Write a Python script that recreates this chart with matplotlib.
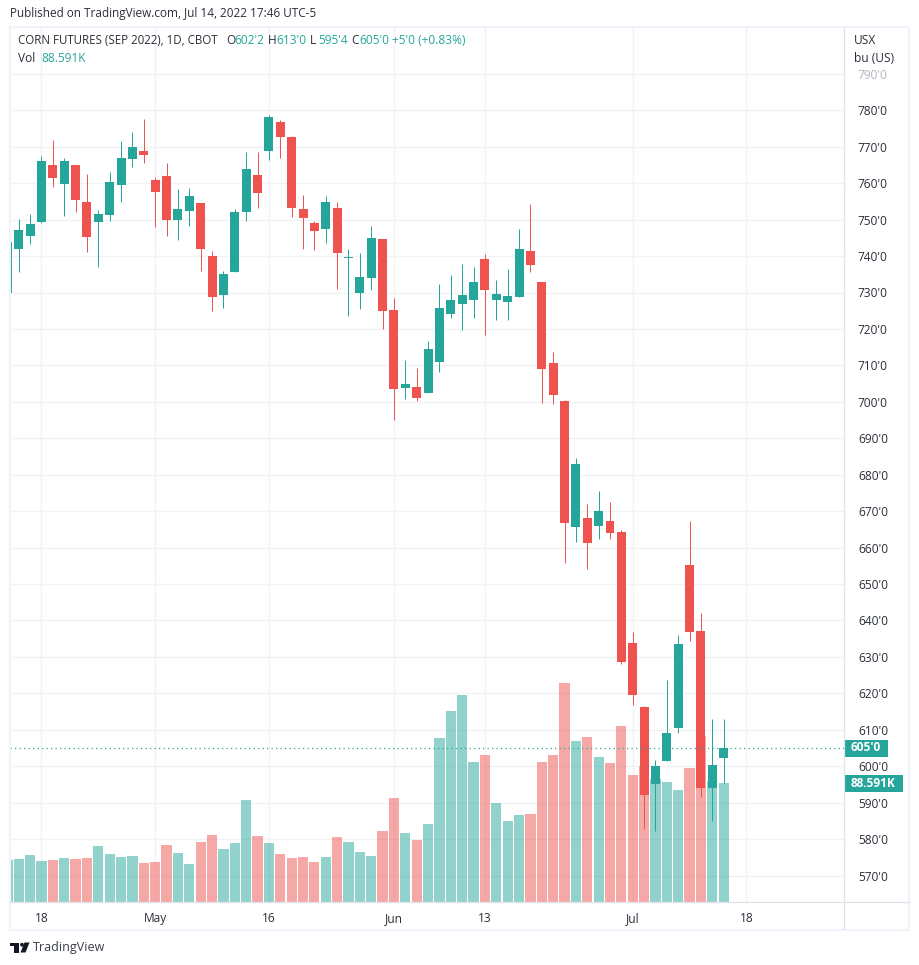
import matplotlib
matplotlib.use("Agg")
import matplotlib.pyplot as plt
from matplotlib.patches import Polygon, Rectangle, Circle

plt.rcParams['font.family'] = ['Open Sans', 'DejaVu Sans']

# daily bars, first one is the clipped candle on the left edge
opens = [729.9, 741.9, 745.5, 749.4, 765.0, 759.8, 765.0, 754.8, 749.4, 751.3, 759.5, 766.6, 768.8,
         760.9, 762.0, 749.9, 752.4, 754.6, 740.0, 729.3, 735.6, 752.1, 762.3, 768.8, 776.8, 772.7,
         752.8, 749.0, 747.3, 753.1, 739.4, 729.8, 733.9, 744.6, 725.1, 703.7, 704.0, 702.3, 710.8,
         724.0, 726.8, 727.9, 739.1, 727.9, 727.3, 728.7, 741.3, 732.8, 710.6, 700.2, 665.7, 668.1,
         665.9, 667.3, 664.3, 633.8, 616.2, 595.1, 601.4, 610.5, 655.2, 637.1, 594.0, 602.25]
highs = [743.9, 750.2, 751.5, 767.5, 771.9, 766.9, 765.0, 762.5, 752.6, 763.1, 771.6, 774.1, 777.6,
         761.7, 765.5, 758.4, 758.7, 754.6, 741.4, 735.9, 752.9, 768.6, 768.6, 778.7, 777.3, 773.0,
         756.7, 749.5, 756.4, 754.8, 741.9, 740.8, 748.2, 744.6, 728.4, 711.4, 709.2, 716.6, 732.2,
         734.7, 737.7, 736.9, 740.5, 733.3, 736.4, 747.3, 754.2, 732.8, 713.6, 700.5, 684.6, 672.0,
         675.5, 672.6, 664.8, 636.8, 616.5, 601.7, 623.7, 636.0, 667.3, 642.0, 613.0, 613.0]
lows = [729.9, 735.6, 743.3, 749.1, 759.0, 751.0, 752.1, 741.1, 737.0, 749.6, 754.8, 764.4, 765.5,
        748.0, 745.5, 744.4, 748.3, 735.9, 724.9, 725.7, 735.6, 749.6, 753.2, 766.4, 766.9, 750.7,
        741.9, 741.6, 743.5, 730.9, 723.5, 725.4, 730.6, 719.9, 694.9, 700.7, 700.1, 702.3, 708.1,
        722.9, 719.6, 722.9, 718.3, 722.4, 722.4, 728.7, 735.5, 699.6, 699.3, 655.8, 661.5, 654.1,
        662.4, 662.4, 628.1, 616.8, 582.8, 582.2, 601.4, 609.1, 634.4, 591.5, 585.0, 595.5]
closes = [743.9, 747.2, 748.8, 766.1, 761.4, 766.1, 755.4, 745.2, 751.5, 760.3, 766.9, 769.9, 767.7,
          757.6, 749.9, 752.9, 756.5, 741.9, 728.8, 735.1, 752.1, 763.9, 757.3, 778.2, 772.7, 753.2,
          750.4, 746.8, 754.8, 740.8, 739.7, 734.2, 744.9, 724.8, 703.4, 704.8, 701.0, 714.4, 725.7,
          727.9, 729.2, 732.8, 730.6, 729.5, 729.0, 741.9, 737.5, 708.9, 701.8, 666.8, 683.0, 661.3,
          670.1, 664.0, 628.6, 619.5, 592.1, 600.1, 609.1, 633.5, 636.8, 594.0, 600.3, 605.0]
# volume in thousands
volumes = [31.5, 32.3, 35.2, 30.8, 31.5, 33.0, 32.3, 33.0, 41.9, 36.0, 33.8, 34.5, 29.3,
           30.0, 42.7, 36.7, 28.5, 44.9, 50.1, 39.7, 44.2, 76.2, 49.4, 44.2, 36.0, 33.0,
           33.8, 30.0, 33.8, 48.6, 44.9, 37.5, 34.4, 53.0, 77.5, 51.4, 46.2, 58.1, 122.1,
           142.2, 154.1, 104.2, 109.5, 73.7, 60.3, 64.8, 65.5, 104.2, 109.5, 163.1, 119.9, 122.9,
           108.0, 103.5, 131.0, 94.6, 101.3, 91.6, 89.4, 83.4, 99.8, 123.6, 90.1, 88.591]
first_bar = -3

date_ticks = [0, 10, 20, 31, 39, 52, 62]
date_labels = ['18', 'May', '16', 'Jun', '13', 'Jul', '18']
price_ticks = list(range(570, 800, 10))
price_labels = [f"{p}'0" for p in price_ticks]

UP = '#26a69a'
DOWN = '#ef5350'
GRID = '#f1f2f4'
BORDER = '#f0f3fa'
FRAME = '#e0e3eb'
TEXT = '#2a2e39'

W, H = 920, 965
# plot area in pixels, and the price / index scales
left, right, top, bottom = 10.5, 844.0, 28.0, 902.3
px_per_bar = 11.37
px_x0 = 41.5
px_per_price = 3.644
px_780 = 110.3
k_per_px = 88.591 / 119.0

fig = plt.figure(figsize=(W / 100, H / 100), dpi=100, facecolor='white')
pos = [left / W, 1 - bottom / H, (right - left) / W, (bottom - top) / H]

vol_ax = fig.add_axes(pos)
ax = vol_ax.twinx()

xs = [first_bar + i for i in range(len(closes))]
ax.set_xlim((left - px_x0) / px_per_bar, (right - px_x0) / px_per_bar)
ax.set_ylim(780 - (bottom - px_780) / px_per_price, 780 + (px_780 - top) / px_per_price)
vol_ax.set_ylim(0, (bottom - top) * k_per_px)

colors = [UP if c >= o else DOWN for o, c in zip(opens, closes)]

def price_to_vol(p):
    return (p - ax.get_ylim()[0]) * px_per_price * k_per_px

# grid lives on the volume axes so it stays underneath the bars
vol_ax.set_xticks(date_ticks)
vol_ax.set_xticklabels(date_labels, fontsize=8.6, color=TEXT)
vol_ax.set_yticks([price_to_vol(p) for p in price_ticks])
vol_ax.set_yticklabels([])
vol_ax.tick_params(length=0, pad=7)
vol_ax.grid(True, color=GRID, lw=1.0)
vol_ax.set_axisbelow(True)
vol_ax.bar(xs, volumes, width=0.9, color=colors, alpha=0.5, linewidth=0)

wicks = ax.vlines(xs, lows, highs, colors=colors, lw=0.72)
wicks.set_snap(True)
ax.bar(xs, [abs(c - o) for o, c in zip(opens, closes)], bottom=[min(o, c) for o, c in zip(opens, closes)],
       width=0.79, color=colors, linewidth=0)
ax.axhline(closes[-1], color=UP, lw=0.9, ls=(0, (1, 2.6)))

ax.set_yticks(price_ticks)
ax.set_yticklabels(price_labels, fontsize=8.6, color=TEXT)
ax.tick_params(length=0, pad=10)
ax.get_yticklabels()[-1].set_color('#b2b5be')

for a in (ax, vol_ax):
    for s in a.spines.values():
        s.set_visible(False)

# last value tags on the scale
ax.add_patch(Rectangle((1.0, closes[-1] - 8.5 / px_per_price), 44 / (right - left), 17 / px_per_price,
                       transform=ax.get_yaxis_transform(), color=UP, clip_on=False, lw=0))
ax.annotate(f"{int(closes[-1])}'0", (1.0, closes[-1]), xytext=(22 / 100 * 72, 0), textcoords='offset points',
            xycoords=ax.get_yaxis_transform(), color='white', fontsize=8.6, fontweight='bold',
            ha='center', va='center', annotation_clip=False)
vol_ax.add_patch(Rectangle((1.0, volumes[-1] - 8.5 * k_per_px), 59 / (right - left), 17 * k_per_px,
                           transform=vol_ax.get_yaxis_transform(), color=UP, clip_on=False, lw=0))
vol_ax.annotate(f"{volumes[-1]}K", (1.0, volumes[-1]), xytext=(29.5 / 100 * 72, 0), textcoords='offset points',
                xycoords=vol_ax.get_yaxis_transform(), color='white', fontsize=8.6, fontweight='bold',
                ha='center', va='center', annotation_clip=False)

# overlay in pixel coordinates for the frame, headers and logo
ov = fig.add_axes([0, 0, 1, 1], zorder=10)
ov.set_xlim(0, W)
ov.set_ylim(H, 0)
ov.axis('off')
ov.patch.set_visible(False)

ov.add_patch(Rectangle((9.75, 27), 899.5, 902.5, fill=False, ec=BORDER, lw=1.5))
ov.plot([844.3, 844.3], [28, 929], color=FRAME, lw=0.9)
ov.plot([10.5, 909], [902.3, 902.3], color=FRAME, lw=0.9)

ov.text(10, 14, 'Published on TradingView.com, Jul 14, 2022 17:46 UTC-5', fontsize=8.5, color=TEXT, va='center')

ov.text(18, 41, 'CORN FUTURES (SEP 2022), 1D, CBOT', fontsize=8.3, color=TEXT, va='center')
for x, s, cval in [(226, 'O', "602'2"), (268, 'H', "613'0"), (310, 'L', "595'4"), (351, 'C', "605'0")]:
    ov.text(x, 41, s, fontsize=8.6, color=TEXT, va='center')
    ov.text(x + 8.5, 41, cval, fontsize=8.6, color=UP, va='center')
ov.text(392, 41, "+5'0 (+0.83%)", fontsize=8.6, color=UP, va='center')
ov.text(18, 58.5, 'Vol', fontsize=8.6, color=TEXT, va='center')
ov.text(41, 58.5, '88.591K', fontsize=8.6, color=UP, va='center')

ov.text(854, 40.5, 'USX', fontsize=8.6, color=TEXT, va='center')
ov.text(854, 59, 'bu (US)', fontsize=8.6, color=TEXT, va='center')

# logo
ov.add_patch(Polygon([(10, 942.5), (19.5, 942.5), (19.5, 952.5), (14.5, 952.5), (14.5, 946), (10, 946)],
                     color='#131722', lw=0))
ov.add_patch(Circle((22, 944.7), 1.9, color='#131722', lw=0))
ov.add_patch(Polygon([(24.5, 942.5), (29.5, 942.5), (25.5, 952.5), (20.5, 952.5)], color='#131722', lw=0))
ov.text(33, 947.5, 'TradingView', fontsize=9.0, color='#3a3e4a', va='center')

fig.savefig('out.png', dpi=100)
